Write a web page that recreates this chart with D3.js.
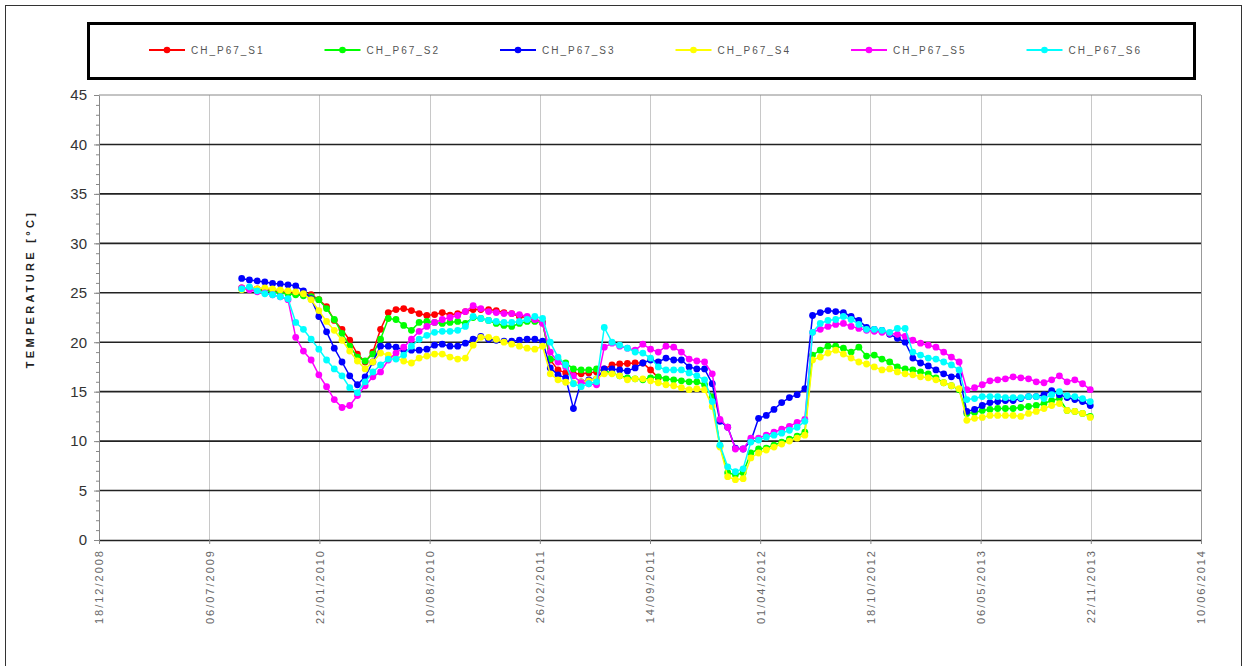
<!DOCTYPE html>
<html><head><meta charset="utf-8">
<script src="https://cdn.jsdelivr.net/npm/d3@7"></script>
<style>body{margin:0;background:#fff}svg{display:block}</style>
</head><body><svg id="c" width="1248" height="666"></svg>
<script>
const seriesNames = ["CH_P67_S1","CH_P67_S2","CH_P67_S3","CH_P67_S4","CH_P67_S5","CH_P67_S6"];
const seriesColors = ["#ff0000","#00ff00","#0000ff","#ffff00","#ff00ff","#00ffff"];
const xTickLabels = ["18/12/2008","06/07/2009","22/01/2010","10/08/2010","26/02/2011","14/09/2011","01/04/2012","18/10/2012","06/05/2013","22/11/2013","10/06/2014"];
const yTicks = [0,5,10,15,20,25,30,35,40,45];
const dates = [
"2009-09-03","2009-09-17","2009-10-01","2009-10-15","2009-10-29","2009-11-12","2009-11-26","2009-12-10","2009-12-24","2010-01-07",
"2010-01-21","2010-02-04","2010-02-18","2010-03-04","2010-03-18","2010-04-01","2010-04-15","2010-04-29","2010-05-13","2010-05-27",
"2010-06-10","2010-06-24","2010-07-08","2010-07-22","2010-08-05","2010-08-19","2010-09-02","2010-09-16","2010-09-30","2010-10-14",
"2010-10-28","2010-11-11","2010-11-25","2010-12-09","2010-12-23","2011-01-06","2011-01-20","2011-02-03","2011-02-17","2011-03-03",
"2011-03-17","2011-03-31","2011-04-14","2011-04-28","2011-05-12","2011-05-26","2011-06-09","2011-06-23","2011-07-07","2011-07-21",
"2011-08-04","2011-08-18","2011-09-01","2011-09-15","2011-09-29","2011-10-13","2011-10-27","2011-11-10","2011-11-24","2011-12-08",
"2011-12-22","2012-01-05","2012-01-19","2012-02-02","2012-02-16","2012-03-01","2012-03-15","2012-03-29","2012-04-12","2012-04-26",
"2012-05-10","2012-05-24","2012-06-07","2012-06-21","2012-07-05","2012-07-19","2012-08-02","2012-08-16","2012-08-30","2012-09-13",
"2012-09-27","2012-10-11","2012-10-25","2012-11-08","2012-11-22","2012-12-06","2012-12-20","2013-01-03","2013-01-17","2013-01-31",
"2013-02-14","2013-02-28","2013-03-14","2013-03-28","2013-04-11","2013-04-25","2013-05-09","2013-05-23","2013-06-06","2013-06-20",
"2013-07-04","2013-07-18","2013-08-01","2013-08-15","2013-08-29","2013-09-12","2013-09-26","2013-10-10","2013-10-24","2013-11-07","2013-11-21"];
const s1 = [
25.5,25.5,25.4,25.3,25.2,25.1,25.0,24.9,24.8,24.8,
24.3,23.6,22.2,21.3,20.2,18.8,18.0,19.0,21.3,23.0,
23.3,23.4,23.2,22.9,22.7,22.8,23.0,22.75,22.9,23.1,
23.3,23.3,23.3,23.2,23.0,22.9,22.6,22.5,22.3,22.0,
18.2,17.2,16.9,16.8,16.8,16.9,17.0,17.3,17.7,17.8,
17.85,17.9,17.9,17.2,16.4];
const s2 = [
25.4,25.4,25.3,25.2,25.1,25.0,24.9,24.8,24.7,24.6,
24.3,23.4,22.3,20.9,19.6,18.5,18.1,18.8,20.3,22.4,
22.3,21.7,21.2,22.0,22.1,22.0,21.9,22.0,22.1,21.9,
22.5,22.4,22.2,21.9,21.7,21.6,21.9,22.1,22.1,22.0,
18.3,18.2,17.9,17.3,17.2,17.2,17.3,17.1,16.9,16.6,
16.4,16.3,16.2,16.4,16.5,16.3,16.2,16.1,16.0,16.0,
15.7,14.5,9.5,6.8,6.6,6.8,8.8,9.2,9.3,9.6,
9.9,10.2,10.5,10.9,18.7,19.2,19.6,19.6,19.4,19.0,
19.5,18.6,18.7,18.3,18.0,17.5,17.3,17.2,17.0,16.8,
16.4,15.9,15.6,15.2,12.8,12.9,13.1,13.2,13.3,13.3,
13.3,13.4,13.5,13.6,13.8,14.1,14.3,13.1,13.0,12.8,12.5];
const s3 = [
26.45,26.3,26.2,26.1,25.95,25.9,25.8,25.7,25.2,24.4,
22.6,21.05,19.4,18.0,16.6,15.7,16.5,18.0,19.6,19.6,
19.5,19.2,19.2,19.2,19.3,19.7,19.8,19.6,19.6,19.9,
20.3,20.6,20.3,20.2,20.1,20.1,20.2,20.3,20.3,20.1,
17.4,16.7,16.4,13.3,16.0,16.2,16.3,17.3,17.3,17.2,
17.1,17.4,17.9,18.2,18.0,18.4,18.2,18.2,17.5,17.3,
17.3,15.8,12.0,11.4,9.3,9.2,10.0,12.3,12.6,13.2,
13.9,14.4,14.7,15.3,22.7,23.0,23.2,23.1,23.0,22.6,
22.2,21.5,21.3,21.2,20.8,20.4,20.0,18.4,17.9,17.6,
17.2,16.8,16.5,16.6,13.0,13.2,13.6,13.9,14.0,14.1,
14.1,14.3,14.5,14.5,14.7,15.1,14.7,14.4,14.2,14.0,13.6];
const s4 = [
25.3,25.4,25.4,25.5,25.4,25.3,25.2,25.1,24.9,24.3,
23.2,22.1,21.2,20.2,19.1,18.1,17.3,18.0,18.9,18.7,
18.4,18.1,17.9,18.4,18.6,18.8,18.8,18.5,18.3,18.4,
19.7,20.5,20.5,20.3,20.0,19.8,19.6,19.4,19.3,19.6,
16.8,16.2,15.95,15.85,16.0,16.1,16.3,16.8,16.8,16.6,
16.2,16.3,16.3,16.1,15.9,15.7,15.6,15.4,15.2,15.3,
15.2,13.5,9.4,6.4,6.1,6.2,8.3,8.8,9.1,9.4,
9.7,10.0,10.3,10.6,18.2,18.5,18.9,19.2,18.8,18.4,
18.0,17.8,17.5,17.2,17.3,17.0,16.8,16.7,16.5,16.4,
16.2,15.9,15.6,15.3,12.1,12.3,12.4,12.6,12.6,12.6,
12.6,12.5,12.8,13.0,13.3,13.6,13.8,13.1,13.0,12.8,12.4];
const s5 = [
25.5,25.3,25.1,25.0,24.8,24.6,24.3,20.5,19.1,18.2,
16.7,15.5,14.2,13.4,13.6,14.6,15.6,16.5,17.0,18.2,
18.9,19.5,20.3,21.1,21.6,22.0,22.3,22.5,22.7,23.1,
23.7,23.4,23.1,23.0,22.9,22.9,22.8,22.6,22.3,21.9,
19.0,18.0,17.5,16.6,15.9,15.8,15.7,19.5,19.9,19.6,
19.4,19.2,19.8,19.3,19.0,19.6,19.5,19.0,18.3,18.1,
18.0,16.8,12.2,11.4,9.2,9.2,10.3,10.3,10.6,10.9,
11.2,11.5,11.9,12.2,21.0,21.3,21.6,21.8,21.9,21.6,
21.4,21.2,21.1,21.0,20.9,20.8,20.6,20.2,19.9,19.7,
19.5,19.0,18.5,18.0,15.2,15.4,15.7,16.1,16.2,16.3,
16.5,16.4,16.3,16.0,15.9,16.2,16.6,16.0,16.2,15.8,15.2];
const s6 = [
25.4,25.6,25.2,24.9,24.8,24.6,24.4,22.0,21.3,20.3,
19.3,18.2,17.3,16.6,15.4,14.9,16.0,17.0,17.7,18.3,
18.3,18.7,19.6,20.3,20.7,21.0,21.1,21.1,21.2,21.6,
22.6,22.4,22.2,22.1,22.0,22.0,22.1,22.3,22.6,22.4,
20.0,18.5,17.7,15.8,15.5,15.8,16.0,21.5,20.0,19.7,
19.4,19.0,18.9,18.4,17.5,17.2,17.2,17.2,16.9,16.6,
16.2,14.0,9.6,7.4,6.9,7.2,9.9,10.1,10.4,10.6,
10.8,11.1,11.4,12.0,21.0,21.9,22.2,22.3,22.6,22.3,
21.8,21.3,21.3,21.2,21.0,21.4,21.4,19.0,18.7,18.4,
18.3,18.0,17.7,17.2,14.2,14.3,14.5,14.5,14.5,14.4,
14.4,14.4,14.5,14.5,14.3,14.7,15.0,14.6,14.5,14.3,14.0];
const seriesValues = [s1,s2,s3,s4,s5,s6];

const svg = d3.select("#c");
const parseDate = d3.utcParse("%Y-%m-%d");
const parseTick = d3.utcParse("%d/%m/%Y");
const tickDates = xTickLabels.map(parseTick);
const L = 99, R = 1201, T = 95, B = 540;
const x = d3.scaleUtc().domain([tickDates[0], tickDates[tickDates.length-1]]).range([L, R]);
const y = d3.scaleLinear().domain([0, 45]).range([B, T]);

// outer frame
svg.append("rect").attr("x",5.5).attr("y",5.5).attr("width",1236).attr("height",680)
  .attr("fill","none").attr("stroke","#333").attr("stroke-width",1);
// legend box
svg.append("rect").attr("x",88.5).attr("y",23.5).attr("width",1106).attr("height",55)
  .attr("fill","none").attr("stroke","#000").attr("stroke-width",3);

// vertical gridlines
svg.append("g").selectAll("line").data(tickDates.slice(1)).join("line")
  .attr("x1",d=>Math.round(x(d))+0.5).attr("x2",d=>Math.round(x(d))+0.5)
  .attr("y1",T).attr("y2",B).attr("stroke",(d,i)=> i===tickDates.length-2 ? "#999" : "#c8c8c8").attr("stroke-width",1);
// horizontal gridlines
svg.append("g").selectAll("line").data(yTicks.slice(1)).join("line")
  .attr("x1",L).attr("x2",R).attr("y1",d=>y(d)).attr("y2",d=>y(d))
  .attr("stroke",d=> d===45 ? "#888" : "#222").attr("stroke-width",d=> d===45 ? 1 : 1.6);

// y minor ticks
const yMinor = svg.append("g").attr("transform",`translate(${L},0)`)
  .call(d3.axisLeft(y).tickValues(d3.range(0,46)).tickSize(3).tickFormat(""));
yMinor.select(".domain").remove();
yMinor.selectAll("line").attr("stroke","#888");
// y axis
const yAxis = svg.append("g").attr("transform",`translate(${L},0)`)
  .call(d3.axisLeft(y).tickValues(yTicks).tickSize(5).tickPadding(7).tickSizeOuter(0));
yAxis.select(".domain").attr("stroke","#888");
yAxis.selectAll("line").attr("stroke","#888");
yAxis.selectAll("text").attr("font-family","'Liberation Sans',Arial,sans-serif").attr("font-size",15).attr("fill","#333");

// x axis
const xAxis = svg.append("g").attr("transform",`translate(0,${B})`)
  .call(d3.axisBottom(x).tickValues(tickDates).tickSize(4).tickSizeOuter(0).tickFormat(d3.utcFormat("%d/%m/%Y")));
xAxis.select(".domain").attr("stroke","#222").attr("stroke-width",1.6);
xAxis.selectAll("line").attr("stroke","#888");
xAxis.selectAll("text")
  .attr("font-family","'Liberation Sans',Arial,sans-serif").attr("font-size",11).attr("fill","#666")
  .attr("letter-spacing","2px")
  .attr("text-anchor","end").attr("transform","rotate(-90)")
  .attr("x",-9).attr("y",0).attr("dy","0.35em");

// y title
svg.append("text").attr("transform","translate(34,289) rotate(-90)")
  .attr("text-anchor","middle").attr("font-family","'Liberation Sans',Arial,sans-serif")
  .attr("font-weight","bold").attr("font-size",11).attr("letter-spacing","3.3px").attr("fill","#222")
  .text("TEMPERATURE [°C]");

// series
const line = d3.line().defined(d=>d.v!=null).x(d=>x(d.t)).y(d=>y(d.v));
seriesValues.forEach((vals,i)=>{
  const pts = dates.map((d,j)=>({t:parseDate(d), v: vals[j]==null?null:vals[j]}));
  const g = svg.append("g");
  g.append("path").datum(pts).attr("d",line).attr("fill","none")
    .attr("stroke",seriesColors[i]).attr("stroke-width",1.5);
  g.selectAll("circle").data(pts.filter(p=>p.v!=null)).join("circle")
    .attr("cx",p=>x(p.t)).attr("cy",p=>y(p.v)).attr("r",3.4).attr("fill",seriesColors[i]);
});

// legend
const leg = svg.append("g");
seriesNames.forEach((n,i)=>{
  const cx = 167 + i*175.5, cy = 50;
  leg.append("line").attr("x1",cx-18).attr("x2",cx+18).attr("y1",cy).attr("y2",cy)
    .attr("stroke",seriesColors[i]).attr("stroke-width",2);
  leg.append("circle").attr("cx",cx).attr("cy",cy).attr("r",3.3).attr("fill",seriesColors[i]);
  leg.append("text").attr("x",cx+24).attr("y",cy+3.5)
    .attr("font-family","'Liberation Sans',Arial,sans-serif").attr("font-size",10)
    .attr("letter-spacing","2px").attr("fill","#555").text(n);
});
</script>
</body></html>
